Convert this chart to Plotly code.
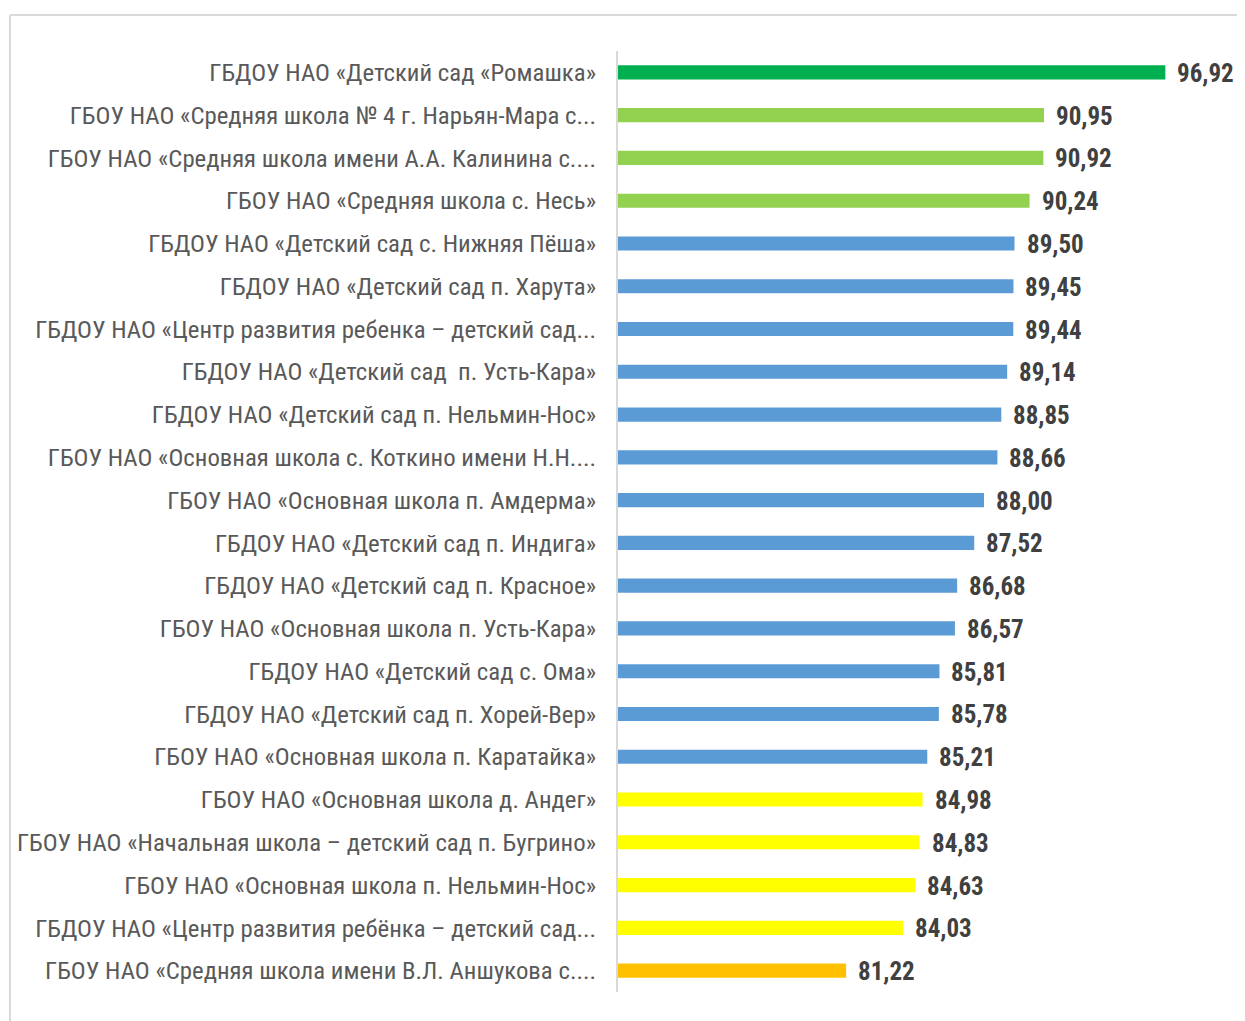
import plotly.graph_objects as go

categories = [
    "ГБДОУ НАО «Детский сад «Ромашка»",
    "ГБОУ НАО «Средняя школа № 4 г. Нарьян-Мара с...",
    "ГБОУ НАО «Средняя школа имени А.А. Калинина с....",
    "ГБОУ НАО «Средняя школа с. Несь»",
    "ГБДОУ НАО «Детский сад с. Нижняя Пёша»",
    "ГБДОУ НАО «Детский сад п. Харута»",
    "ГБДОУ НАО «Центр развития ребенка – детский сад...",
    "ГБДОУ НАО «Детский сад  п. Усть-Кара»",
    "ГБДОУ НАО «Детский сад п. Нельмин-Нос»",
    "ГБОУ НАО «Основная школа с. Коткино имени Н.Н....",
    "ГБОУ НАО «Основная школа п. Амдерма»",
    "ГБДОУ НАО «Детский сад п. Индига»",
    "ГБДОУ НАО «Детский сад п. Красное»",
    "ГБОУ НАО «Основная школа п. Усть-Кара»",
    "ГБДОУ НАО «Детский сад с. Ома»",
    "ГБДОУ НАО «Детский сад п. Хорей-Вер»",
    "ГБОУ НАО «Основная школа п. Каратайка»",
    "ГБОУ НАО «Основная школа д. Андег»",
    "ГБОУ НАО «Начальная школа – детский сад п. Бугрино»",
    "ГБОУ НАО «Основная школа п. Нельмин-Нос»",
    "ГБДОУ НАО «Центр развития ребёнка – детский сад...",
    "ГБОУ НАО «Средняя школа имени В.Л. Аншукова с....",
]
values = [96.92, 90.95, 90.92, 90.24, 89.50, 89.45, 89.44, 89.14, 88.85, 88.66,
          88.00, 87.52, 86.68, 86.57, 85.81, 85.78, 85.21, 84.98, 84.83, 84.63,
          84.03, 81.22]
groups = ["top", "high", "high", "high"] + ["mid"] * 13 + ["low"] * 4 + ["bottom"]
group_colors = {"top": "#00B050", "high": "#92D050", "mid": "#5B9BD5",
                "low": "#FFFF00", "bottom": "#FFC000"}

colors = [group_colors[g] for g in groups]
value_text = [f"{v:.2f}".replace(".", ",") for v in values]

font_family = "Liberation Sans Narrow, Roboto Condensed, Arial Narrow, Liberation Sans, sans-serif"

# page body has an 8px default margin; compensate
W, H = 1237, 1013
L, T = 610, 43
PW, PH = 610, 941

fig = go.Figure(go.Bar(
    x=values, y=categories, orientation="h",
    marker=dict(color=colors, line=dict(width=0)),
    width=0.33,
))

for cat, v, t in zip(categories, values, value_text):
    fig.add_annotation(x=v, y=cat, text=f"<b>{t}</b>", showarrow=False,
                       xanchor="left", xshift=10, yshift=-1,
                       font=dict(family=font_family, size=25, color="#404040"))

fx = -(L - 2) / PW        # frame left edge in paper coords
fy = 1 + (T - 7) / PH     # frame top edge in paper coords

fig.update_layout(
    width=W, height=H,
    paper_bgcolor="white", plot_bgcolor="white",
    margin=dict(l=L, r=W - L - PW, t=T, b=H - T - PH),
    showlegend=False,
    xaxis=dict(range=[70, 100], visible=False, fixedrange=True),
    yaxis=dict(autorange="reversed", showgrid=False, showline=True,
               linecolor="#D9D9D9", linewidth=2, ticks="",
               ticklabelstandoff=15,
               tickfont=dict(family=font_family, size=24.8, color="#595959"),
               automargin=False, fixedrange=True),
    shapes=[
        dict(type="line", xref="paper", yref="paper",
             x0=fx, x1=1.2, y0=fy, y1=fy,
             line=dict(color="#D9D9D9", width=2)),
        dict(type="line", xref="paper", yref="paper",
             x0=fx, x1=fx, y0=fy, y1=-0.2,
             line=dict(color="#D9D9D9", width=2)),
    ],
)

fig.write_html("out.html")
